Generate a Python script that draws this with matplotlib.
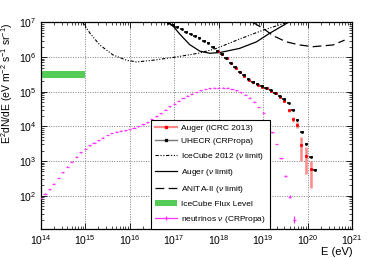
import numpy as np
import matplotlib
matplotlib.use('Agg')
import matplotlib.pyplot as plt
from matplotlib.lines import Line2D
from matplotlib.patches import Patch

plt.rcParams['font.family'] = ['Liberation Sans', 'DejaVu Sans']
plt.rcParams['mathtext.fontset'] = 'custom'
plt.rcParams['mathtext.rm'] = 'Liberation Sans'
plt.rcParams['mathtext.it'] = 'Liberation Sans:italic'
plt.rcParams['mathtext.bf'] = 'Liberation Sans:bold'

# valores em log10: energia (eV) e E^2 dN/dE (eV m^-2 s^-1 sr^-1)
# neutrinos (CRPropa)
nu_logE = [14.0, 14.1, 14.2, 14.3, 14.4, 14.5, 14.6, 14.7, 14.8, 14.9,
           15.0, 15.1, 15.2, 15.3, 15.4, 15.5, 15.6, 15.7, 15.8, 15.9,
           16.0, 16.1, 16.2, 16.3, 16.4, 16.5, 16.6, 16.7, 16.8, 16.9,
           17.0, 17.1, 17.2, 17.3, 17.4, 17.5, 17.6, 17.7, 17.8, 17.9,
           18.0, 18.1, 18.2, 18.3, 18.4, 18.5, 18.6, 18.7, 18.8, 18.9,
           19.0, 19.1, 19.2, 19.3, 19.4, 19.5, 19.6, 19.7]
nu_logF = [1.93, 2.05, 2.18, 2.34, 2.51, 2.68, 2.83, 2.98, 3.12, 3.25,
           3.36, 3.45, 3.53, 3.60, 3.67, 3.75, 3.81, 3.84, 3.87, 3.89,
           3.92, 3.96, 4.00, 4.06, 4.12, 4.20, 4.29, 4.38, 4.48, 4.58,
           4.66, 4.74, 4.82, 4.88, 4.94, 4.99, 5.04, 5.08, 5.10, 5.12,
           5.12, 5.12, 5.11, 5.08, 5.04, 4.98, 4.91, 4.83, 4.71, 4.56,
           4.39, 4.12, 3.83, 3.49, 3.08, 2.57, 1.97, 1.30]
nu_err = [0.012] * 54 + [0.015, 0.025, 0.045, 0.10]

# Auger (ICRC 2013)
auger_logE = [17.98, 18.08, 18.18, 18.28, 18.38, 18.48, 18.58, 18.68, 18.78, 18.88,
              18.98, 19.08, 19.18, 19.28, 19.38, 19.47, 19.57, 19.66, 19.77, 19.86,
              19.96, 20.07]
auger_logF = [6.18, 6.08, 5.96, 5.82, 5.68, 5.56, 5.45, 5.35, 5.27, 5.20,
              5.15, 5.10, 5.02, 4.95, 4.86, 4.72, 4.46, 4.21, 4.04, 3.45,
              3.15, 2.76]
auger_err_up = [0.02] * 15 + [0.03, 0.05, 0.07, 0.09, 0.24, 0.24, 0.24]
auger_err_lo = [0.02] * 15 + [0.03, 0.05, 0.08, 0.10, 0.44, 0.53, 0.53]

# UHECR (CRPropa)
cr_logE = [16.77, 16.87, 16.97, 17.07, 17.17, 17.27, 17.37, 17.47, 17.57, 17.67,
           17.77, 17.87, 17.97, 18.07, 18.17, 18.27, 18.37, 18.47, 18.57, 18.67,
           18.77, 18.87, 18.97, 19.07, 19.17, 19.27, 19.37, 19.47, 19.57, 19.67,
           19.77, 19.87, 19.97, 20.07, 20.17]
cr_logF = [7.03, 6.98, 6.92, 6.86, 6.80, 6.73, 6.67, 6.61, 6.54, 6.47,
           6.40, 6.30, 6.19, 6.08, 5.96, 5.83, 5.70, 5.58, 5.47, 5.37,
           5.29, 5.22, 5.16, 5.11, 5.05, 4.97, 4.88, 4.78, 4.68, 4.48,
           4.19, 3.85, 3.49, 3.12, 2.74]

# limites de neutrinos
icecube_logE = [14.95, 15.11, 15.33, 15.63, 15.93, 16.16, 16.53, 16.98, 17.36, 17.58,
                17.95, 18.47, 18.94, 19.60]
icecube_logF = [7.0, 6.69, 6.35, 6.06, 5.91, 5.86, 5.91, 5.99, 6.07, 6.12,
                6.25, 6.52, 6.75, 7.03]
augerlim_logE = [16.87, 16.98, 17.13, 17.35, 17.58, 17.80, 18.02, 18.47, 18.85, 19.15, 19.59]
augerlim_logF = [7.0, 6.89, 6.66, 6.36, 6.17, 6.11, 6.13, 6.25, 6.44, 6.69, 7.02]
anita_logE = [18.77, 19.0, 19.22, 19.52, 19.82, 20.12, 20.57, 20.83]
anita_logF = [7.0, 6.83, 6.62, 6.44, 6.35, 6.30, 6.35, 6.49]

# nivel de fluxo IceCube
icecube_flux_E = [1e14, 1e15]
icecube_flux_lo = 2.5e5
icecube_flux_hi = 3.9e5

# rotulos dos eixos
xtick_exp = [14, 15, 16, 17, 18, 19, 20, 21]
ytick_exp = [2, 3, 4, 5, 6, 7]


def pot(v):
    return 10 ** np.array(v, dtype=float)


def barras(logv, lo, hi):
    # converte erros em log para erros lineares (baixo, cima)
    logv = np.array(logv, dtype=float)
    v = 10 ** logv
    return [v - 10 ** (logv - np.array(lo)), 10 ** (logv + np.array(hi)) - v]


fig = plt.figure(figsize=(3.9, 2.58), dpi=100)
ax = fig.add_axes([0.104, 0.113, 0.799, 0.800])
ax.set_xscale('log')
ax.set_yscale('log')

ax.grid(True, which='major', color='#808080', linestyle=(0, (1, 1.5)), linewidth=0.7)

# faixa verde
ax.fill_between(icecube_flux_E, icecube_flux_lo, icecube_flux_hi, color='#55cc55', lw=0, zorder=2)

# limites
ax.plot(pot(icecube_logE), pot(icecube_logF), color='black', lw=0.8,
        dashes=[3, 1.5, 1, 1.5, 1, 1.5], zorder=3)
ax.plot(pot(augerlim_logE), pot(augerlim_logF), color='black', lw=0.9, zorder=3)
ax.plot(pot(anita_logE), pot(anita_logF), color='black', lw=0.9, dashes=[7, 3.5], zorder=3)

# neutrinos
ax.errorbar(pot(nu_logE), pot(nu_logF),
            xerr=barras(nu_logE, 0.035, 0.035),
            yerr=barras(nu_logF, nu_err, nu_err),
            fmt='none', ecolor='#ff33ff', elinewidth=0.9, capsize=0, zorder=4)

# Auger
ax.errorbar(pot(auger_logE), pot(auger_logF),
            yerr=barras(auger_logF, auger_err_lo, auger_err_up),
            fmt='s', color='red', ms=1.1, ecolor='#ff8888', elinewidth=1.8, capsize=0, zorder=5)

# UHECR CRPropa
ax.errorbar(pot(cr_logE), pot(cr_logF),
            xerr=barras(cr_logE, 0.04, 0.04),
            fmt='s', color='black', ms=0.9, ecolor='black', elinewidth=1.1, capsize=0, zorder=6)

ax.set_xticks(pot(xtick_exp))
ax.set_xticklabels([r'$10^{%d}$' % e for e in xtick_exp])
ax.set_yticks(pot(ytick_exp))
ax.set_yticklabels([r'$10^{%d}$' % e for e in ytick_exp])
ax.xaxis.set_minor_locator(matplotlib.ticker.LogLocator(base=10, subs=np.arange(2, 10), numticks=20))
ax.yaxis.set_minor_locator(matplotlib.ticker.LogLocator(base=10, subs=np.arange(2, 10), numticks=20))
ax.xaxis.set_minor_formatter(matplotlib.ticker.NullFormatter())
ax.yaxis.set_minor_formatter(matplotlib.ticker.NullFormatter())
ax.set_xlim(1e14, 1e21)
ax.set_ylim(11, 1e7)

ax.tick_params(which='both', direction='in', top=True, right=True, labelsize=7.5, pad=3)
ax.tick_params(which='major', length=4, width=0.6)
ax.tick_params(which='minor', length=2, width=0.5)
for s in ax.spines.values():
    s.set_linewidth(0.9)

ax.set_xlabel('E (eV)', fontsize=8, loc='right', labelpad=0)
ax.set_ylabel(r'E$^{2}$dN/dE (eV m$^{-2}$ s$^{-1}$ sr$^{-1}$)', fontsize=7.5, loc='top', labelpad=3)

handles = [
    Line2D([], [], color='#ff8888', lw=1.6, marker='s', ms=1.4, mfc='red', mec='red'),
    Line2D([], [], color='#777777', lw=1.0, marker='s', ms=1.4, mfc='black', mec='black'),
    Line2D([], [], color='black', lw=0.8, dashes=[3, 1.5, 1, 1.5, 1, 1.5]),
    Line2D([], [], color='black', lw=0.9),
    Line2D([], [], color='black', lw=0.9, dashes=[7, 3.5]),
    Patch(facecolor='#55cc55', edgecolor='none'),
    Line2D([], [], color='#ff33ff', lw=0.9, marker='|', ms=3, mec='#ff33ff'),
]
labels = ['Auger (ICRC 2013)', 'UHECR (CRPropa)', r'IceCube 2012 ($\nu$ limit)',
          r'Auger ($\nu$ limit)', r'ANITA-II ($\nu$ limit)', 'IceCube Flux Level',
          r'neutrinos $\nu$ (CRPropa)']
leg = ax.legend(handles, labels, loc='lower left', bbox_to_anchor=(0.355, 0.0),
                borderaxespad=0, fontsize=6, frameon=True, fancybox=False,
                edgecolor='black', framealpha=1, handlelength=2.6, handletextpad=0.5,
                labelspacing=0.66, borderpad=0.5, numpoints=1)
leg.get_frame().set_linewidth(0.8)
leg.set_zorder(10)

fig.savefig('out.png', dpi=100)
